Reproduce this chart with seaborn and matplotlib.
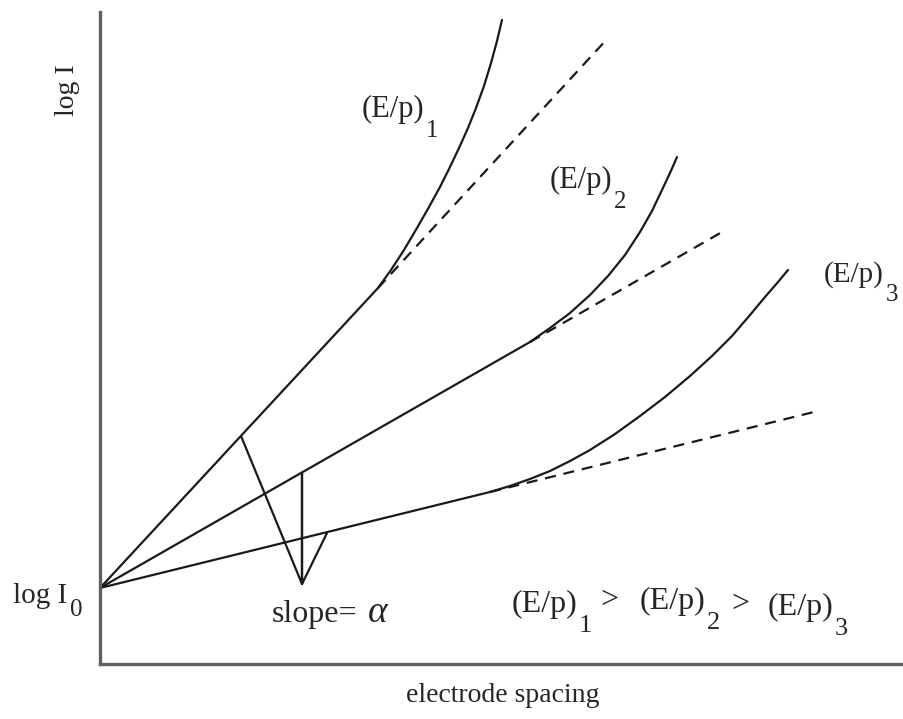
import matplotlib
matplotlib.use("Agg")
import matplotlib.pyplot as plt
import seaborn as sns

# ---- data (schematic, in pixel-like units from the axes corner) ----
curve1_x = [0, 278, 291, 304, 317, 329, 340, 350, 359, 368, 376, 384, 391, 397, 402]
curve1_y = [76, 376, 394, 414, 436, 457, 477, 497, 516, 536, 556, 578, 601, 623, 644]
curve2_x = [0, 430, 450, 470, 490, 508, 525, 540, 552, 562, 570, 577]
curve2_y = [76, 322, 336, 351, 369, 388, 409, 432, 453, 474, 491, 507]
curve3_x = [0, 390, 410, 430, 450, 470, 490, 515, 540, 565, 590, 612, 632, 650, 665, 678, 688]
curve3_y = [76, 172, 178, 185, 193, 203, 214, 230, 248, 267, 288, 308, 328, 349, 367, 382, 394]
dash1_x = [278, 508]
dash1_y = [376, 626]
dash2_x = [430, 622]
dash2_y = [322, 432]
dash3_x = [390, 718]
dash3_y = [172, 253]
slope_x = [141, 202, 202, 202, 227]
slope_y = [228, 80, 191, 80, 131]

sns.set_theme(style="white")
plt.rcParams['font.family'] = ['Liberation Serif', 'DejaVu Serif']
plt.rcParams['mathtext.fontset'] = 'custom'
plt.rcParams['mathtext.rm'] = 'Liberation Serif'
plt.rcParams['mathtext.it'] = 'Liberation Serif:italic'

fig = plt.figure(figsize=(9.04, 7.19), dpi=100)
W, H = 904, 719
ax = fig.add_axes([100 / W, (H - 664) / H, 801 / W, 652 / H])
ax.set_xlim(0, 801)
ax.set_ylim(0, 652)

lw = 1.6
for xs, ys in [(curve1_x, curve1_y), (curve2_x, curve2_y), (curve3_x, curve3_y)]:
    sns.lineplot(x=xs, y=ys, sort=False, estimator=None, color='#1a1a1a', lw=lw, ax=ax)
for xs, ys in [(dash1_x, dash1_y), (dash2_x, dash2_y), (dash3_x, dash3_y)]:
    sns.lineplot(x=xs, y=ys, sort=False, estimator=None, color='#1a1a1a', lw=lw,
                 ax=ax, linestyle=(0, (5, 3.5)))
sns.lineplot(x=slope_x, y=slope_y, sort=False, estimator=None, color='#1a1a1a', lw=lw, ax=ax)
for line in ax.lines:
    line.set_solid_joinstyle('round')
    line.set_solid_capstyle('round')

for s in ['top', 'right']:
    ax.spines[s].set_visible(False)
for s in ['left', 'bottom']:
    ax.spines[s].set_color('#606060')
    ax.spines[s].set_linewidth(2.4)
ax.set_xticks([])
ax.set_yticks([])


def label(x, y, main, sub, size=20, subsize=17, off=(1, 3)):
    t = ax.text(x, y, main, fontsize=size, ha='left', va='baseline', clip_on=False)
    ax.annotate(sub, xy=(1, 0), xycoords=t, xytext=off, textcoords='offset points',
                fontsize=subsize, ha='left', va='top', annotation_clip=False)
    return t


label(262, 547, '(E/p)', '1', size=22, subsize=18)
label(450, 476, '(E/p)', '2', size=22, subsize=18)
label(724, 382, '(E/p)', '3', size=21, subsize=18)

# log I0
label(-87, 61, 'log I', '0', size=21, subsize=18, off=(2, 7))
ax.text(172, 42, 'slope=', fontsize=23, ha='left', va='baseline')
ax.text(267, 42, r'$\alpha$', fontsize=27, ha='left', va='baseline')

# comparison line
label(412, 52, '(E/p)', '1', size=23, subsize=19)
ax.text(500, 56, '>', fontsize=23, ha='left', va='baseline')
label(540, 55, '(E/p)', '2', size=23, subsize=19)
ax.text(631, 52, '>', fontsize=23, ha='left', va='baseline')
label(668, 49, '(E/p)', '3', size=23, subsize=19)

ax.text(-32, 574, 'log I', fontsize=20, rotation=90, ha='center', va='center', clip_on=False)
ax.text(403, -31, 'electrode spacing', fontsize=20, ha='center', va='center', clip_on=False)

fig.savefig('out.png', dpi=100)
